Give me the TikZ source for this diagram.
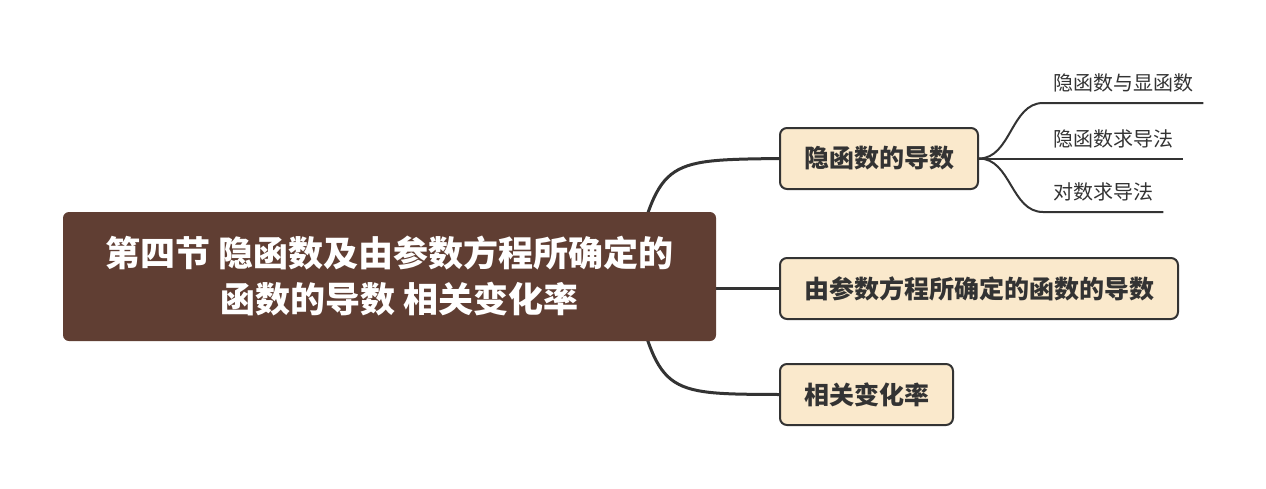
\documentclass[tikz,border=0pt]{standalone}
\usepackage{fontspec}
\setmainfont{Noto Sans CJK SC}
\usetikzlibrary{positioning,backgrounds}
\definecolor{rootbrown}{HTML}{603E33}
\definecolor{ink}{HTML}{333333}
\definecolor{cream}{HTML}{FAE9CC}
\tikzset{
  rootbox/.style={fill=rootbrown, rounded corners=6pt, text=white, align=center,
    font=\fontsize{35pt}{46pt}\selectfont\bfseries,
    minimum width=653pt, minimum height=129pt, inner sep=0pt},
  topic/.style={draw=ink, line width=2pt, rounded corners=7pt, fill=cream, text=ink,
    font=\fontsize{25pt}{30pt}\selectfont\bfseries,
    inner xsep=24pt, inner ysep=0pt, minimum height=61pt, anchor=west},
  subtopic/.style={text=ink, font=\fontsize{20pt}{24pt}\selectfont,
    inner xsep=10pt, inner ysep=8pt, text depth=4pt, anchor=south west},
  branch/.style={draw=ink, line width=3pt, line cap=round},
  twig/.style={draw=ink, line width=2pt},
}
\begin{document}
\begin{tikzpicture}[x=1pt, y=-1pt]
  \useasboundingbox (0,0) rectangle (1266,488);
  \node[rootbox] (root) at (389.5,276.5) {第四节 隐函数及由参数方程所确定的\\\hspace*{20pt}函数的导数 相关变化率};
  \node[topic] (implicit) at (779,158.5) {隐函数的导数};
  \node[topic] (param) at (779,288.5) {由参数方程所确定的函数的导数};
  \node[topic] (rate) at (779,394.5) {相关变化率};
  \node[subtopic] (explicit) at (1043,103) {隐函数与显函数};
  \node[subtopic] (diffrule) at (1043,158.5) {隐函数求导法};
  \node[subtopic] (logdiff) at (1043,212) {对数求导法};
  \coordinate (hub) at (630,277);
  \begin{scope}[on background layer]
    \draw[branch] (hub) .. controls (660,160) .. (implicit.west);
    \draw[branch] (hub) .. controls (660,394) .. (rate.west);
    \draw[branch] (param.west -| root.east) -- (param.west);
  \end{scope}
  \draw[twig] (implicit.east) .. controls +(32,0) and +(-32,0) .. (explicit.south west) -- (explicit.south east);
  \draw[twig] (implicit.east) -- (diffrule.south east);
  \draw[twig] (implicit.east) .. controls +(32,0) and +(-32,0) .. (logdiff.south west) -- (logdiff.south east);
\end{tikzpicture}
\end{document}
